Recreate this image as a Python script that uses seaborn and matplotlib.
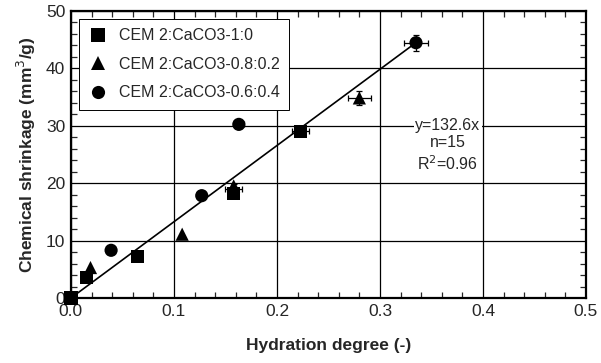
import matplotlib
matplotlib.use("Agg")
import matplotlib.pyplot as plt
import numpy as np
import pandas as pd
import seaborn as sns
from matplotlib.ticker import MultipleLocator

# hydration degree vs chemical shrinkage, three binder mixes
mixes = ["CEM 2:CaCO3-1:0", "CEM 2:CaCO3-0.8:0.2", "CEM 2:CaCO3-0.6:0.4"]
hyd_1 = [0.0, 0.015, 0.065, 0.158, 0.223]
shr_1 = [0.0, 3.5, 7.2, 18.2, 29.0]
hyd_2 = [0.0, 0.019, 0.108, 0.158, 0.280]
shr_2 = [0.0, 5.3, 11.1, 19.5, 34.8]
hyd_3 = [0.0, 0.039, 0.127, 0.163, 0.335]
shr_3 = [0.0, 8.3, 17.8, 30.2, 44.4]

# points that carry error bars
err_x = [0.158, 0.223, 0.280, 0.163, 0.335]
err_y = [19.0, 29.0, 34.8, 30.2, 44.4]
err_dx = [0.008, 0.008, 0.011, 0.005, 0.012]
err_dy = [0.8, 0.5, 1.2, 0.3, 1.4]

slope = 132.6

df = pd.DataFrame({
    "hyd": hyd_3 + hyd_2 + hyd_1,
    "shr": shr_3 + shr_2 + shr_1,
    "mix": [mixes[2]] * 5 + [mixes[1]] * 5 + [mixes[0]] * 5,
})

sns.set_style("ticks")
plt.rcParams["font.family"] = ["Liberation Sans", "DejaVu Sans"]

fig, ax = plt.subplots(figsize=(6.01, 3.63), dpi=100)
fig.subplots_adjust(left=0.118, right=0.975, bottom=0.179, top=0.971)

ax.grid(True, which="major", color="black", linewidth=0.9)
ax.set_axisbelow(True)

ax.errorbar(err_x, err_y, xerr=err_dx, yerr=err_dy, fmt="none",
            ecolor="black", elinewidth=0.9, capsize=2.5, capthick=0.9, zorder=2)

xs = np.array([0.0, max(hyd_3)])
ax.plot(xs, slope * xs, color="black", linewidth=1.2, zorder=3)

sns.scatterplot(data=df, x="hyd", y="shr", style="mix",
                markers={mixes[0]: "s", mixes[1]: "^", mixes[2]: "o"},
                style_order=mixes, color="black", s=90, edgecolor="black",
                linewidth=0, ax=ax, zorder=4, clip_on=False)

ax.set_xlim(0, 0.5)
ax.set_ylim(0, 50)
ax.xaxis.set_major_locator(MultipleLocator(0.1))
ax.xaxis.set_minor_locator(MultipleLocator(0.02))
ax.yaxis.set_major_locator(MultipleLocator(10))
ax.yaxis.set_minor_locator(MultipleLocator(2))
ax.xaxis.set_major_formatter(matplotlib.ticker.FormatStrFormatter("%.1f"))
ax.tick_params(which="both", direction="in", top=True, right=True,
               labelsize=12.5, width=0.9)
ax.tick_params(which="major", length=0, pad=4)
ax.tick_params(which="minor", length=4)
for sp in ax.spines.values():
    sp.set_linewidth(1.6)
    sp.set_color("black")

ax.set_xlabel("Hydration degree (-)", fontsize=12.5, fontweight="bold", labelpad=14)
ax.set_ylabel("Chemical shrinkage (mm$^3$/g)", fontsize=12.5, fontweight="bold", labelpad=6)

ax.text(0.366, 30, "y=132.6x", ha="center", va="center", fontsize=11.5,
        bbox=dict(facecolor="white", edgecolor="none", pad=1), zorder=5)
ax.text(0.366, 27.0, "n=15", ha="center", va="center", fontsize=11.5, zorder=5)
ax.text(0.366, 23.4, "R$^2$=0.96", ha="center", va="center", fontsize=11.5, zorder=5)

leg = ax.legend(loc="upper left", bbox_to_anchor=(0.0, 1.0), borderaxespad=0.5,
                fontsize=11.5, frameon=True, fancybox=False, framealpha=1,
                edgecolor="black", handlelength=1.2, handletextpad=0.7,
                labelspacing=0.85, borderpad=0.6, title=None)
leg.get_frame().set_linewidth(0.7)

fig.savefig("out.png", dpi=100)
